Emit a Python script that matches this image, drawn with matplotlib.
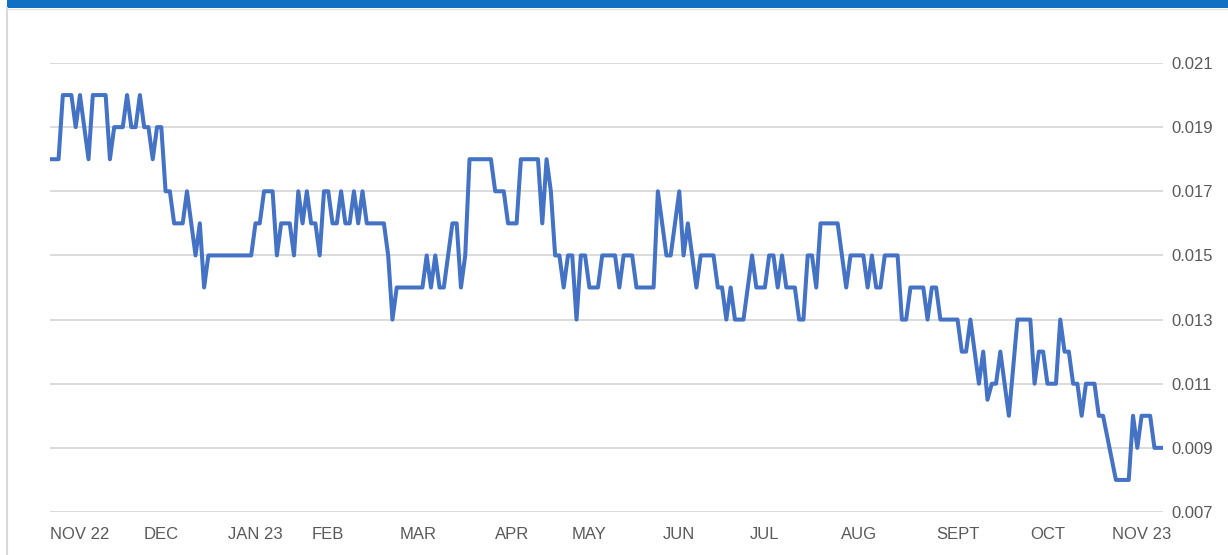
import matplotlib
matplotlib.use("Agg")
import matplotlib.pyplot as plt
from matplotlib.patches import Rectangle
from matplotlib.lines import Line2D
from matplotlib.ticker import FormatStrFormatter

# business-day index of each turning point of the series, and its value
day = [0, 2, 3, 5, 6, 7, 9, 10, 13, 14, 15, 17, 18, 19, 20, 21, 22, 23, 24, 25,
       26, 27, 28, 29, 31, 32, 34, 35, 36, 37, 47, 48, 49, 50, 52, 53, 54, 56, 57, 58,
       59, 60, 61, 62, 63, 64, 65, 66, 67, 68, 69, 70, 71, 72, 73, 74, 78, 79, 80, 81,
       87, 88, 89, 90, 91, 92, 94, 95, 96, 97, 98, 103, 104, 106, 107, 109, 110, 114, 115, 116,
       117, 118, 119, 120, 121, 122, 123, 124, 125, 126, 128, 129, 132, 133, 134, 136, 137, 141, 142, 144,
       145, 147, 148, 149, 151, 152, 155, 156, 157, 158, 159, 160, 162, 164, 165, 167, 168, 169, 170, 171,
       172, 174, 175, 176, 177, 178, 179, 180, 184, 186, 187, 190, 191, 192, 193, 194, 195, 198, 199, 200,
       201, 204, 205, 206, 207, 208, 212, 213, 214, 215, 217, 218, 219, 220, 221, 222, 224, 226, 229, 230,
       231, 232, 233, 235, 236, 237, 238, 239, 240, 241, 242, 244, 245, 246, 249, 252, 253, 254, 255, 257,
       258, 260]
rate = [0.018, 0.018, 0.020, 0.020, 0.019, 0.020, 0.018, 0.020, 0.020, 0.018, 0.019, 0.019, 0.020, 0.019, 0.019, 0.020, 0.019, 0.019, 0.018, 0.019,
        0.019, 0.017, 0.017, 0.016, 0.016, 0.017, 0.015, 0.016, 0.014, 0.015, 0.015, 0.016, 0.016, 0.017, 0.017, 0.015, 0.016, 0.016, 0.015, 0.017,
        0.016, 0.017, 0.016, 0.016, 0.015, 0.017, 0.017, 0.016, 0.016, 0.017, 0.016, 0.016, 0.017, 0.016, 0.017, 0.016, 0.016, 0.015, 0.013, 0.014,
        0.014, 0.015, 0.014, 0.015, 0.014, 0.014, 0.016, 0.016, 0.014, 0.015, 0.018, 0.018, 0.017, 0.017, 0.016, 0.016, 0.018, 0.018, 0.016, 0.018,
        0.017, 0.015, 0.015, 0.014, 0.015, 0.015, 0.013, 0.015, 0.015, 0.014, 0.014, 0.015, 0.015, 0.014, 0.015, 0.015, 0.014, 0.014, 0.017, 0.015,
        0.015, 0.017, 0.015, 0.016, 0.014, 0.015, 0.015, 0.014, 0.014, 0.013, 0.014, 0.013, 0.013, 0.015, 0.014, 0.014, 0.015, 0.015, 0.014, 0.015,
        0.014, 0.014, 0.013, 0.013, 0.015, 0.015, 0.014, 0.016, 0.016, 0.014, 0.015, 0.015, 0.014, 0.015, 0.014, 0.014, 0.015, 0.015, 0.013, 0.013,
        0.014, 0.014, 0.013, 0.014, 0.014, 0.013, 0.013, 0.012, 0.012, 0.013, 0.011, 0.012, 0.0105, 0.011, 0.011, 0.012, 0.010, 0.013, 0.013, 0.011,
        0.012, 0.012, 0.011, 0.011, 0.013, 0.012, 0.012, 0.011, 0.011, 0.010, 0.011, 0.011, 0.010, 0.010, 0.008, 0.008, 0.010, 0.009, 0.010, 0.010,
        0.009, 0.009]

# month labels and the business day they sit on
month_day = [7, 26, 48, 65, 86, 108, 126, 147, 167, 189, 212, 233, 255]
month_label = ["NOV 22", "DEC", "JAN 23", "FEB", "MAR", "APR", "MAY",
               "JUN", "JUL", "AUG", "SEPT", "OCT", "NOV 23"]

y_ticks = [0.007, 0.009, 0.011, 0.013, 0.015, 0.017, 0.019, 0.021]

W, H = 1228, 555
plt.rcParams['font.family'] = ['Liberation Sans', 'DejaVu Sans']

fig = plt.figure(figsize=(W / 100, H / 100), dpi=100)
fig.patch.set_facecolor('white')

# card frame: blue top bar and light grey borders
fig.add_artist(Rectangle((7 / W, 1 - 8 / H), 1 - 7 / W, 8 / H,
                         transform=fig.transFigure, color='#1170c4', lw=0))
fig.add_artist(Line2D([7 / W, 7 / W], [0, 1 - 8 / H], transform=fig.transFigure,
                      color='#d9d9d9', lw=1.5))
fig.add_artist(Line2D([7 / W, 1], [1 - 9 / H, 1 - 9 / H], transform=fig.transFigure,
                      color='#e6e6e6', lw=1.0))

ax = fig.add_axes([50 / W, 1 - 512 / H, (1163 - 50) / W, (512 - 63) / H])
ax.plot(day, rate, color='#4472c4', lw=2.9, solid_joinstyle='round',
        solid_capstyle='round', zorder=3)

ax.set_xlim(0, 260)
ax.set_ylim(0.007, 0.021)
ax.set_yticks(y_ticks)
ax.yaxis.set_major_formatter(FormatStrFormatter('%.3f'))
ax.yaxis.tick_right()
ax.set_xticks(month_day)
ax.set_xticklabels(month_label)

ax.grid(axis='y', color='#d9d9d9', lw=1.3)
ax.set_axisbelow(True)
for side in ['top', 'left', 'right', 'bottom']:
    ax.spines[side].set_visible(False)
ax.tick_params(axis='both', length=0, labelsize=12, colors='#595959')
ax.tick_params(axis='y', pad=6)
ax.tick_params(axis='x', pad=11)

fig.savefig('out.png', dpi=100)
